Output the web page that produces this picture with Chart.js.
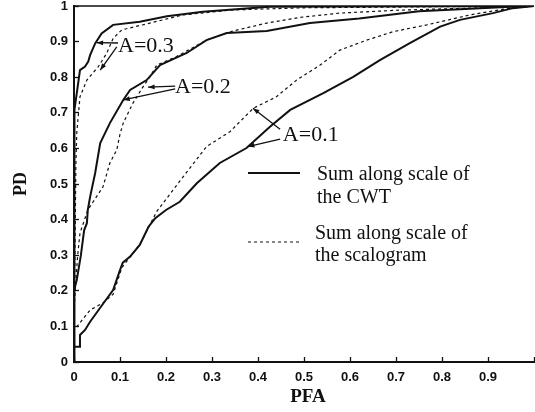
<!DOCTYPE html>
<html>
<head>
<meta charset="utf-8">
<script src="https://cdn.jsdelivr.net/npm/chart.js@4.4.1/dist/chart.umd.min.js"></script>
<style>
  html, body { margin: 0; padding: 0; background: #fff; }
  #wrap { width: 535px; height: 412px; position: relative; }
</style>
</head>
<body>
<div id="wrap"><canvas id="chart" width="535" height="412"></canvas></div>
<script>
// ROC curves: PFA (x) against PD (y)
var xTicks = [0, 0.1, 0.2, 0.3, 0.4, 0.5, 0.6, 0.7, 0.8, 0.9, 1];
var yTicks = [0, 0.1, 0.2, 0.3, 0.4, 0.5, 0.6, 0.7, 0.8, 0.9, 1];

// A = 0.1
var cwt01X = [0, 0, 0.013, 0.013, 0.024, 0.035, 0.064, 0.085, 0.1, 0.106, 0.122, 0.143, 0.162, 0.176, 0.2, 0.23, 0.267, 0.296, 0.317, 0.375, 0.426, 0.47, 0.542, 0.607, 0.665, 0.73, 0.796, 0.839, 0.911, 0.954, 1];
var cwt01Y = [0, 0.043, 0.043, 0.076, 0.09, 0.113, 0.165, 0.202, 0.258, 0.279, 0.296, 0.329, 0.38, 0.403, 0.427, 0.45, 0.502, 0.535, 0.559, 0.601, 0.661, 0.708, 0.755, 0.801, 0.848, 0.896, 0.942, 0.961, 0.98, 0.994, 1];
var sca01X = [0, 0, 0.006, 0.035, 0.063, 0.085, 0.104, 0.143, 0.165, 0.18, 0.23, 0.288, 0.339, 0.39, 0.44, 0.484, 0.535, 0.578, 0.636, 0.694, 0.767, 0.861, 0.948, 1];
var sca01Y = [0, 0.09, 0.099, 0.146, 0.166, 0.19, 0.265, 0.33, 0.385, 0.423, 0.508, 0.605, 0.647, 0.713, 0.745, 0.792, 0.834, 0.876, 0.904, 0.928, 0.947, 0.975, 0.994, 1];

// A = 0.2
var cwt02X = [0, 0, 0.006, 0.015, 0.022, 0.028, 0.03, 0.035, 0.046, 0.057, 0.078, 0.107, 0.122, 0.158, 0.187, 0.245, 0.288, 0.332, 0.419, 0.513, 0.62, 0.75, 0.95, 1];
var cwt02Y = [0, 0.2, 0.23, 0.3, 0.37, 0.39, 0.427, 0.464, 0.531, 0.615, 0.671, 0.736, 0.764, 0.792, 0.834, 0.868, 0.904, 0.924, 0.93, 0.952, 0.965, 0.985, 0.998, 1];
var sca02X = [0, 0, 0.008, 0.013, 0.03, 0.063, 0.078, 0.093, 0.1, 0.107, 0.128, 0.15, 0.165, 0.18, 0.223, 0.288, 0.346, 0.419, 0.491, 0.578, 0.7, 0.886, 1];
var sca02Y = [0, 0.15, 0.3, 0.362, 0.427, 0.492, 0.559, 0.596, 0.64, 0.671, 0.727, 0.773, 0.801, 0.834, 0.858, 0.904, 0.93, 0.952, 0.968, 0.98, 0.988, 0.995, 1];

// A = 0.3
var cwt03X = [0, 0, 0.002, 0.013, 0.024, 0.031, 0.035, 0.046, 0.06, 0.085, 0.143, 0.202, 0.28, 0.426, 1];
var cwt03Y = [0, 0.6, 0.708, 0.82, 0.83, 0.844, 0.862, 0.895, 0.923, 0.947, 0.956, 0.971, 0.984, 0.998, 1];
var sca03X = [0, 0.002, 0.004, 0.006, 0.013, 0.028, 0.053, 0.071, 0.085, 0.104, 0.165, 0.237, 0.346, 0.5, 1];
var sca03Y = [0, 0.3, 0.55, 0.643, 0.745, 0.792, 0.83, 0.867, 0.909, 0.933, 0.952, 0.975, 0.989, 0.995, 1];

var legendText = [['Sum along scale of', 'the CWT'], ['Sum along scale of', 'the scalogram']];

// curve labels and their arrows, in data units
var noteText = ['A=0.3', 'A=0.2', 'A=0.1'];
var noteAt = [[0.0957, 0.89], [0.2196, 0.774], [0.454, 0.639]];
var arrows = [
  [[0.0957, 0.896], [0.049, 0.897]],
  [[0.093, 0.885], [0.057, 0.82]],
  [[0.22, 0.775], [0.161, 0.772]],
  [[0.22, 0.767], [0.107, 0.736]],
  [[0.448, 0.654], [0.389, 0.713]],
  [[0.448, 0.626], [0.378, 0.605]]
];

function pts(xs, ys) {
  return xs.map(function (x, i) { return { x: x, y: ys[i] }; });
}

function line(xs, ys, dashed) {
  return {
    data: pts(xs, ys),
    showLine: true,
    borderColor: '#111',
    borderWidth: dashed ? 1.2 : 2,
    borderDash: dashed ? [3, 3] : [],
    pointRadius: 0,
    tension: 0,
    fill: false
  };
}

var INK = '#111';

var decor = {
  id: 'decor',
  afterDraw: function (chart) {
    var c = chart.ctx, a = chart.chartArea;
    var sx = chart.scales.x, sy = chart.scales.y;
    c.save();
    c.strokeStyle = INK;
    c.fillStyle = INK;

    // top frame line
    c.lineWidth = 1.5;
    c.beginPath();
    c.moveTo(a.left, a.top);
    c.lineTo(a.right, a.top);
    c.stroke();

    // axis titles
    c.font = 'bold 19px "Liberation Serif"';
    c.textAlign = 'center';
    c.textBaseline = 'middle';
    c.fillText('PFA', (a.left + a.right) / 2 + 4, 397);
    c.save();
    c.translate(21, (a.top + a.bottom) / 2);
    c.rotate(-Math.PI / 2);
    c.font = 'bold 18px "Liberation Serif"';
    c.fillText('PD', 0, 0);
    c.restore();

    // arrows
    c.lineWidth = 1.3;
    arrows.forEach(function (ar) {
      var x1 = sx.getPixelForValue(ar[0][0]), y1 = sy.getPixelForValue(ar[0][1]);
      var x2 = sx.getPixelForValue(ar[1][0]), y2 = sy.getPixelForValue(ar[1][1]);
      c.beginPath();
      c.moveTo(x1, y1);
      c.lineTo(x2, y2);
      c.stroke();
      var ang = Math.atan2(y2 - y1, x2 - x1);
      c.beginPath();
      c.moveTo(x2, y2);
      c.lineTo(x2 - 7 * Math.cos(ang - 0.35), y2 - 7 * Math.sin(ang - 0.35));
      c.lineTo(x2 - 7 * Math.cos(ang + 0.35), y2 - 7 * Math.sin(ang + 0.35));
      c.closePath();
      c.fill();
    });

    // curve labels
    c.font = '22px "Liberation Serif"';
    c.textAlign = 'left';
    c.textBaseline = 'middle';
    noteText.forEach(function (t, i) {
      c.fillText(t, sx.getPixelForValue(noteAt[i][0]), sy.getPixelForValue(noteAt[i][1]) + 1);
    });

    // legend
    c.font = '20px "Liberation Serif"';
    c.lineWidth = 2;
    c.beginPath();
    c.moveTo(248, 173);
    c.lineTo(300, 173);
    c.stroke();
    c.lineWidth = 1.2;
    c.setLineDash([3, 3]);
    c.beginPath();
    c.moveTo(248, 242);
    c.lineTo(299, 242);
    c.stroke();
    c.setLineDash([]);
    c.fillText(legendText[0][0], 317, 175);
    c.fillText(legendText[0][1], 317, 198);
    c.fillText(legendText[1][0], 315, 234);
    c.fillText(legendText[1][1], 315, 256);
    c.restore();
  }
};

var tickFont = { family: '"Liberation Sans"', size: 13, weight: 'bold' };

new Chart(document.getElementById('chart').getContext('2d'), {
  type: 'scatter',
  data: {
    datasets: [
      line(cwt01X, cwt01Y, false),
      line(sca01X, sca01Y, true),
      line(cwt02X, cwt02Y, false),
      line(sca02X, sca02Y, true),
      line(cwt03X, cwt03Y, false),
      line(sca03X, sca03Y, true)
    ]
  },
  options: {
    responsive: false,
    animation: false,
    layout: { padding: { top: 6, right: 1, left: 0, bottom: 0 } },
    plugins: { legend: { display: false }, tooltip: { enabled: false } },
    scales: {
      x: {
        type: 'linear',
        min: 0, max: 1,
        afterBuildTicks: function (s) { s.ticks = xTicks.map(function (v) { return { value: v }; }); },
        afterFit: function (s) { s.height = 50; s.paddingLeft = 0; s.paddingRight = 0; },
        ticks: {
          color: INK, font: tickFont, padding: 13, maxRotation: 0, autoSkip: false,
          callback: function (v) { return v === 1 ? '' : String(Math.round(v * 10) / 10); }
        },
        grid: { drawOnChartArea: false, tickLength: -5, tickWidth: 1.3, tickColor: INK },
        border: { color: INK, width: 2 }
      },
      y: {
        type: 'linear',
        min: 0, max: 1,
        afterBuildTicks: function (s) { s.ticks = yTicks.map(function (v) { return { value: v }; }); },
        afterFit: function (s) { s.width = 74; s.paddingTop = 0; s.paddingBottom = 0; },
        ticks: {
          color: INK, font: tickFont, padding: 11, autoSkip: false,
          callback: function (v) { return String(Math.round(v * 10) / 10); }
        },
        grid: { drawOnChartArea: false, tickLength: -5, tickWidth: 1.3, tickColor: INK },
        border: { color: INK, width: 2 }
      }
    }
  },
  plugins: [decor]
});
</script>
</body>
</html>
